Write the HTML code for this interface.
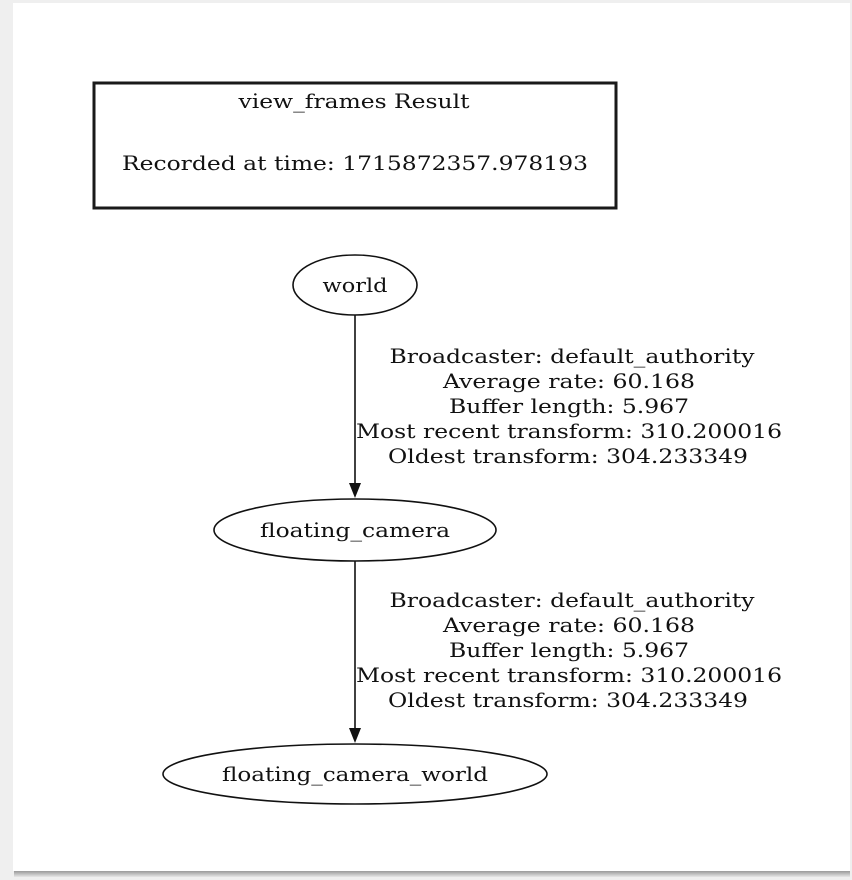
<!DOCTYPE html>
<html><head><style>
html,body{margin:0;padding:0;background:#ececec;}
svg{display:block;}
text{font-family:"DejaVu Serif","Liberation Serif",serif;font-size:20px;fill:#111;}
</style></head><body>
<svg width="852" height="880" viewBox="0 0 852 880" xmlns="http://www.w3.org/2000/svg">
<defs><linearGradient id="sh" x1="0" y1="0" x2="0" y2="1"><stop offset="0" stop-color="#999"/><stop offset="1" stop-color="#e6e6e6"/></linearGradient></defs>
<rect x="0" y="0" width="852" height="880" fill="#efefef"/>
<rect x="14" y="871" width="836" height="6" fill="url(#sh)"/>
<rect x="13" y="3" width="837" height="868" fill="#fff"/>
<rect x="94" y="83" width="522" height="125" fill="none" stroke="#1a1a1a" stroke-width="3"/>
<text x="354" y="108" text-anchor="middle" textLength="231" lengthAdjust="spacingAndGlyphs">view_frames Result</text>
<text x="355" y="170" text-anchor="middle" textLength="466" lengthAdjust="spacingAndGlyphs">Recorded at time: 1715872357.978193</text>
<ellipse cx="355" cy="285" rx="62" ry="30" fill="none" stroke="#111" stroke-width="1.6"/>
<text x="355" y="292" text-anchor="middle" textLength="65" lengthAdjust="spacingAndGlyphs">world</text>
<ellipse cx="355" cy="530" rx="141" ry="31" fill="none" stroke="#111" stroke-width="1.6"/>
<text x="355" y="537" text-anchor="middle" textLength="190" lengthAdjust="spacingAndGlyphs">floating_camera</text>
<ellipse cx="355" cy="774" rx="192" ry="30" fill="none" stroke="#111" stroke-width="1.6"/>
<text x="355" y="781" text-anchor="middle" textLength="266" lengthAdjust="spacingAndGlyphs">floating_camera_world</text>
<line x1="355" y1="315" x2="355" y2="485" stroke="#111" stroke-width="1.6"/>
<polygon points="349,483 361,483 355,498" fill="#111"/>
<line x1="355" y1="561" x2="355" y2="730" stroke="#111" stroke-width="1.6"/>
<polygon points="349,728 361,728 355,743" fill="#111"/>
<g text-anchor="middle">
<text x="572" y="363" textLength="365" lengthAdjust="spacingAndGlyphs">Broadcaster: default_authority</text>
<text x="569" y="388" textLength="252" lengthAdjust="spacingAndGlyphs">Average rate: 60.168</text>
<text x="569" y="413" textLength="240" lengthAdjust="spacingAndGlyphs">Buffer length: 5.967</text>
<text x="569" y="438" textLength="426" lengthAdjust="spacingAndGlyphs">Most recent transform: 310.200016</text>
<text x="568" y="463" textLength="360" lengthAdjust="spacingAndGlyphs">Oldest transform: 304.233349</text>
<text x="572" y="607" textLength="365" lengthAdjust="spacingAndGlyphs">Broadcaster: default_authority</text>
<text x="569" y="632" textLength="252" lengthAdjust="spacingAndGlyphs">Average rate: 60.168</text>
<text x="569" y="657" textLength="240" lengthAdjust="spacingAndGlyphs">Buffer length: 5.967</text>
<text x="569" y="682" textLength="426" lengthAdjust="spacingAndGlyphs">Most recent transform: 310.200016</text>
<text x="568" y="707" textLength="360" lengthAdjust="spacingAndGlyphs">Oldest transform: 304.233349</text>
</g>
</svg>
</body></html>
